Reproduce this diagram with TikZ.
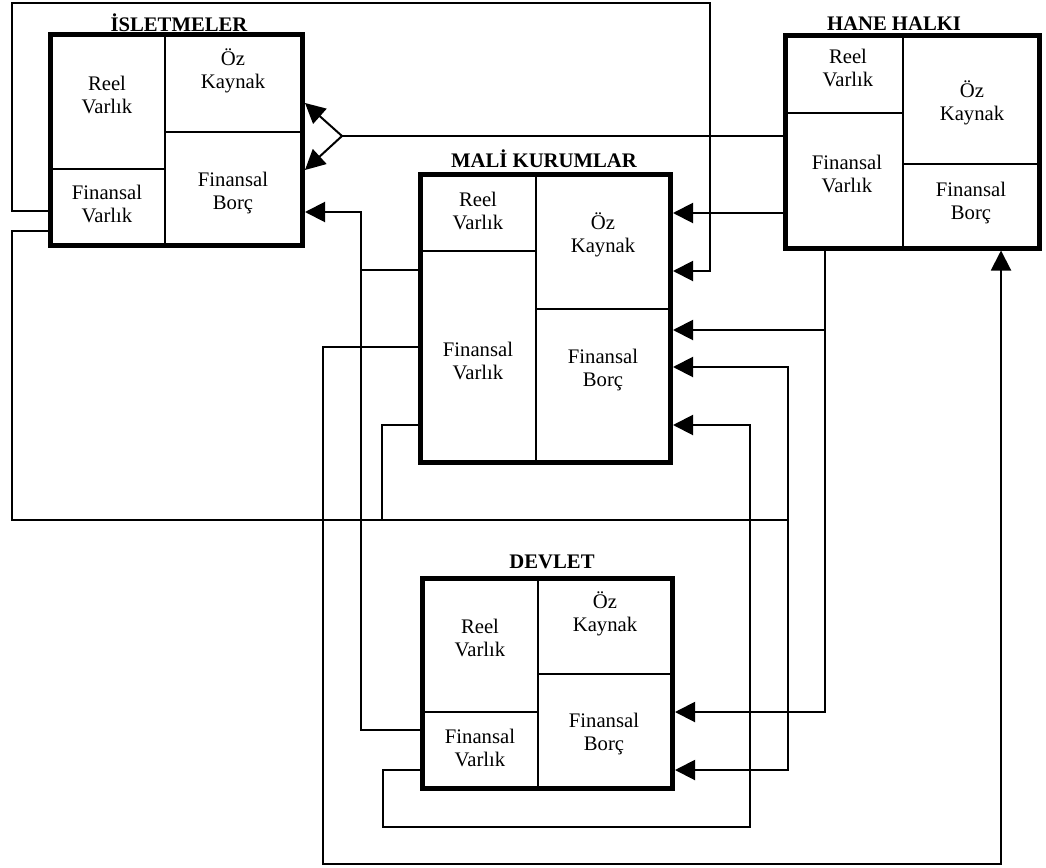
\documentclass[tikz,border=0pt]{standalone}
\usepackage{fontspec}
\setmainfont{Liberation Serif}
\usetikzlibrary{arrows.meta}
\begin{document}
\begin{tikzpicture}[x=1pt,y=-1pt,
  box/.style={draw, line width=5pt, inner sep=0pt, outer sep=2.5pt},
  divline/.style={line width=2pt},
  conn/.style={line width=2pt, line join=miter},
  arr/.style={conn, -{Triangle[length=20pt,width=20pt]}},
  lbl/.style={align=center, inner sep=0pt, font=\fontsize{20.7}{23}\selectfont},
  ttl/.style={inner sep=0pt, font=\fontsize{20.7}{23}\selectfont\bfseries}]
\useasboundingbox (0,0) rectangle (1046,867);

% ---------- dividers ----------
\draw[divline] (165,34.5) -- (165,245.5);
\draw[divline] (50,169) -- (165,169);
\draw[divline] (165,132) -- (302.5,132);

\draw[divline] (536,174.5) -- (536,462.5);
\draw[divline] (420.5,251) -- (536,251);
\draw[divline] (536,309) -- (670.5,309);

\draw[divline] (903,36) -- (903,248);
\draw[divline] (785.5,113) -- (903,113);
\draw[divline] (903,164) -- (1039.5,164);

\draw[divline] (538,578.5) -- (538,788.5);
\draw[divline] (422.5,712) -- (538,712);
\draw[divline] (538,674) -- (672.5,674);

% ---------- sector boxes ----------
\node[box, minimum width=252.5pt, minimum height=211pt] (IS) at (176.25,140) {};
\node[box, minimum width=250pt, minimum height=288pt] (MK) at (545.5,318.5) {};
\node[box, minimum width=254pt, minimum height=212pt] (HH) at (912.5,142) {};
\node[box, minimum width=250pt, minimum height=210pt] (DV) at (547.5,683.5) {};

% ---------- titles ----------
\node[ttl] (IS-t) at (179,23) {İSLETMELER};
\node[ttl] (MK-t) at (544,159) {MALİ KURUMLAR};
\node[ttl] (HH-t) at (894,24) {HANE HALKI};
\node[ttl] (DV-t) at (552,562) {DEVLET};

% ---------- cell texts ----------
\node[lbl] (IS-rv) at (107,95) {Reel\\Varlık};
\node[lbl] (IS-ok) at (233,71) {Öz\\Kaynak};
\node[lbl] (IS-fv) at (107,204) {Finansal\\Varlık};
\node[lbl] (IS-fb) at (233,193) {Finansal\\Borç};

\node[lbl] (MK-rv) at (478,211) {Reel\\Varlık};
\node[lbl] (MK-ok) at (603,235) {Öz\\Kaynak};
\node[lbl] (MK-fv) at (478,361) {Finansal\\Varlık};
\node[lbl] (MK-fb) at (603,370) {Finansal\\Borç};

\node[lbl] (HH-rv) at (848,68) {Reel\\Varlık};
\node[lbl] (HH-ok) at (972,103) {Öz\\Kaynak};
\node[lbl] (HH-fv) at (847,174) {Finansal\\Varlık};
\node[lbl] (HH-fb) at (971,203) {Finansal\\Borç};

\node[lbl] (DV-rv) at (480,638) {Reel\\Varlık};
\node[lbl] (DV-ok) at (605,614) {Öz\\Kaynak};
\node[lbl] (DV-fv) at (480,748) {Finansal\\Varlık};
\node[lbl] (DV-fb) at (604,734) {Finansal\\Borç};

% ---------- connectors ----------
% Hane halki -> Isletmeler (fork)
\coordinate (fork) at (342,136);
\draw[conn] (HH.west |- 0,136) -- (fork);
\draw[arr] (fork) -- (IS.east |- 0,103);
\draw[arr] (fork) -- (IS.east |- 0,170);

% Hane halki -> Mali kurumlar
\draw[arr] (HH.west |- 0,213) -- (MK.east |- 0,213);

% Isletmeler -> Mali kurumlar (top loop)
\draw[arr] (IS.west |- 0,211) -- (12,211) -- (12,3) -- (710,3) |- (MK.east |- 0,271);

% Hane halki -> Mali kurumlar, Devlet
\draw[arr] (HH.south -| 825,0) |- (MK.east |- 0,330);
\draw[arr] (HH.south -| 825,0) |- (DV.east |- 0,712);

% Isletmeler / Mali kurumlar -> Mali kurumlar, Devlet
\coordinate (j1) at (788,520);
\draw[conn] (IS.west |- 0,231) -- (12,231) -- (12,520) -- (j1);
\draw[arr] (j1) |- (MK.east |- 0,367);
\draw[arr] (j1) |- (DV.east |- 0,770);
\draw[conn] (MK.west |- 0,425) -| (382,520);

% Devlet / Mali kurumlar -> Isletmeler
\draw[arr] (DV.west |- 0,730) -| (361,212) -- (IS.east |- 0,212);
\draw[conn] (MK.west |- 0,270) -- (361,270);

% Mali kurumlar -> Hane halki
\draw[arr] (MK.west |- 0,347) -| (323,864) -| (HH.south -| 1001,0);

% Devlet -> Mali kurumlar
\draw[arr] (DV.west |- 0,770) -| (383,827) -| (750,425) -- (MK.east |- 0,425);
\end{tikzpicture}
\end{document}
